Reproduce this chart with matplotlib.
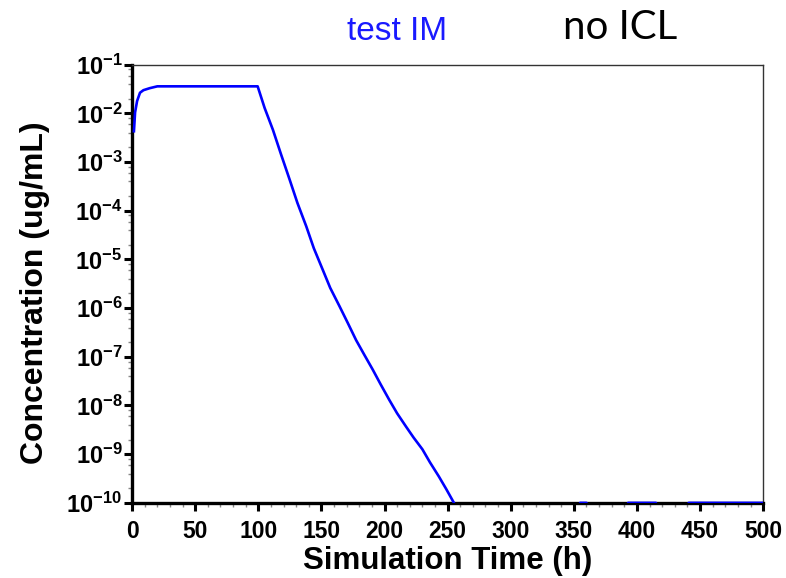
import numpy as np
import matplotlib
matplotlib.use("Agg")
import matplotlib.pyplot as plt
from matplotlib.ticker import FixedLocator, LogLocator, FuncFormatter, NullFormatter

plt.rcParams['font.family'] = ['Liberation Sans', 'DejaVu Sans']
plt.rcParams['mathtext.fontset'] = 'custom'
plt.rcParams['mathtext.rm'] = 'Liberation Sans'
plt.rcParams['mathtext.bf'] = 'Liberation Sans:bold'

# simulated concentration
time_h = [1.5, 2.4, 4, 6.3, 9, 14, 20, 30, 60, 99.5,
          105, 111.6, 118, 124.8, 131, 138, 144, 151, 157, 164.3, 171, 177.5, 184,
          190.6, 197, 203.8, 210, 217, 223, 230, 236, 243, 249, 255,
          256, 353, 355, 360, 362, 391, 393, 415, 417, 439, 441, 500]
conc = [4.3e-3, 1.05e-2, 1.8e-2, 2.66e-2, 3.0e-2, 3.3e-2, 3.6e-2, 3.6e-2, 3.6e-2, 3.6e-2,
        1.3e-2, 4.6e-3, 1.45e-3, 4.4e-4, 1.45e-4, 4.8e-5, 1.7e-5, 6.2e-6, 2.6e-6, 1.1e-6,
        4.9e-7, 2.2e-7, 1.1e-7, 5.5e-8, 2.7e-8, 1.3e-8, 6.9e-9, 3.7e-9, 2.2e-9, 1.26e-9,
        6.8e-10, 3.5e-10, 1.9e-10, 1e-10,
        5e-11, 5e-11, 1e-10, 1e-10, 5e-11, 5e-11, 1e-10, 1e-10, 5e-11, 5e-11, 1e-10, 1e-10]

x_ticks = [0, 50, 100, 150, 200, 250, 300, 350, 400, 450, 500]
y_exponents = list(range(-10, 0))

fig = plt.figure(figsize=(7.86, 5.78), dpi=100)
ax = fig.add_axes([0.168, 0.130, 0.803, 0.758])

ax.plot(time_h, conc, color='#0000ff', lw=1.9, zorder=3)

ax.set_yscale('log')
ax.set_xlim(0, 500)
ax.set_ylim(1e-10, 1e-1)

ax.xaxis.set_major_locator(FixedLocator(x_ticks))
ax.xaxis.set_minor_locator(FixedLocator(np.arange(0, 501, 10)))
ax.yaxis.set_major_locator(FixedLocator([10.0 ** e for e in y_exponents]))
ax.yaxis.set_minor_locator(LogLocator(base=10, subs=(2, 4, 6, 8), numticks=20))
ax.yaxis.set_minor_formatter(NullFormatter())
ax.yaxis.set_major_formatter(FuncFormatter(
    lambda v, p: r'$\mathbf{10^{%d}}$' % int(round(np.log10(v)))))

ax.tick_params(which='major', direction='out', length=6, width=2.2,
               colors='black')
ax.tick_params(which='minor', direction='out', length=3, width=1, color='#888888')
ax.tick_params(axis='x', which='major', labelsize=16.5, pad=6)
ax.tick_params(axis='y', which='major', labelsize=17, pad=1)
for lab in ax.get_xticklabels():
    lab.set_fontweight('bold')

for s in ['left', 'bottom']:
    ax.spines[s].set_linewidth(2.4)
    ax.spines[s].set_color('black')
for s in ['top', 'right']:
    ax.spines[s].set_linewidth(1.0)
    ax.spines[s].set_color('#333333')

ax.set_xlabel('Simulation Time (h)', fontsize=22.5, fontweight='bold')
ax.set_ylabel('Concentration (ug/mL)', fontsize=23, fontweight='bold')
ax.xaxis.set_label_coords(0.5, -0.099)
ax.yaxis.set_label_coords(-0.13, 0.479)

fig.text(397 / 786, 1 - 40 / 578, 'test IM', color='#1a1aff', fontsize=24,
         ha='center', va='baseline')
fig.text(620 / 786, 1 - 39 / 578, 'no ICL', color='black', fontsize=29,
         family=['Lato', 'DejaVu Sans'], ha='center', va='baseline')

fig.savefig('out.png', dpi=100)
